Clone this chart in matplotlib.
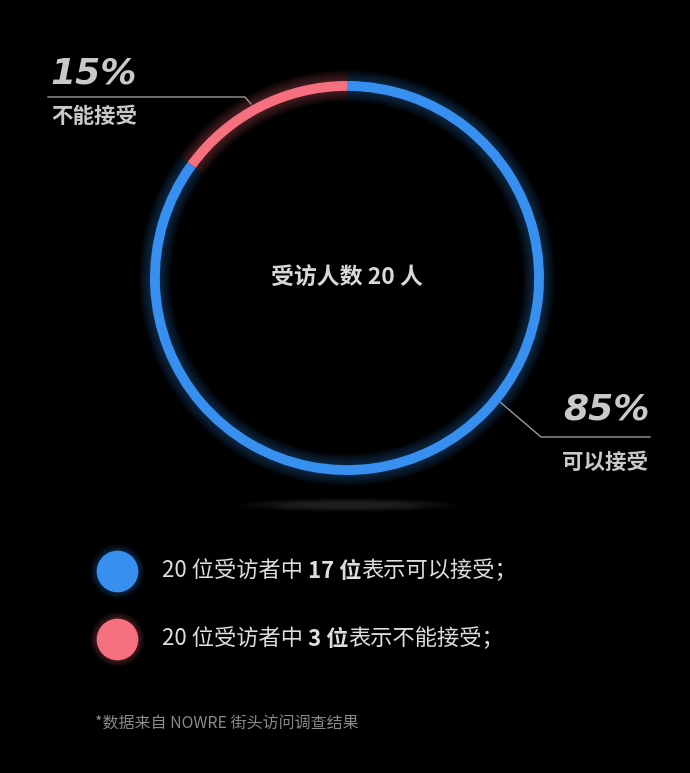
import matplotlib
matplotlib.use("Agg")
import matplotlib.pyplot as plt

# data
labels = ['可以接受', '不能接受']
counts = [17, 3]
shares = ['85%', '15%']
colors = ['#3790f0', '#f7707f']
total = 20
legend_parts = [
    [('20 位受访者中 ', 'normal'), ('17 位', 'bold'), ('表示可以接受；', 'normal')],
    [('20 位受访者中 ', 'normal'), ('3 位', 'bold'), ('表示不能接受；', 'normal')],
]
footnote = '*数据来自 NOWRE 街头访问调查结果'

plt.rcParams['font.family'] = ['Noto Sans CJK SC', 'DejaVu Sans']

W, H = 690, 773
fig = plt.figure(figsize=(W / 100, H / 100), dpi=100, facecolor='black')
ax = fig.add_axes([0, 0, 1, 1])
ax.set_xlim(0, W)
ax.set_ylim(H, 0)
ax.axis('off')
ax.set_facecolor('black')

# soft shadow under the ring
for k in range(8):
    ax.add_patch(matplotlib.patches.Ellipse((348, 505), 220 - k * 18, 14 - k * 1.2,
                                            color='#888888', alpha=0.035, lw=0))

# ring in its own axes
cx, cy, R = 347, 278, 197
half = 1.25 * R
rax = fig.add_axes([(cx - half) / W, (H - cy - half) / H, 2 * half / W, 2 * half / H])
rax.axis('off')
rax.patch.set_alpha(0)
ring_vals = counts[::-1]
ring_cols = colors[::-1]
w = 0.05
for k in range(1, 9):
    d = k * 0.007
    rax.pie(ring_vals, colors=ring_cols, startangle=90, counterclock=True, radius=1 + d,
            wedgeprops=dict(width=w + 2 * d, linewidth=0, alpha=0.04), frame=True)
rax.pie(ring_vals, colors=ring_cols, startangle=90, counterclock=True, radius=1,
        wedgeprops=dict(width=w, linewidth=0), frame=True)
rax.set_xlim(-1.25, 1.25)
rax.set_ylim(-1.25, 1.25)
rax.axis('off')

rax.text(0, 0, f'受访人数 {total} 人', ha='center', va='center', color='#d8d8d8',
         fontsize=16.5, fontweight='bold')

# callouts
txt_col = '#c9c9c9'
ax.plot([48, 245, 251], [97, 97, 104], color='#9a9a9a', lw=1)
ax.text(50, 73, shares[1], color=txt_col, fontsize=26, fontweight='bold',
        family='DejaVu Sans', style='oblique', ha='left', va='center')
ax.text(51, 116, labels[1], color=txt_col, fontsize=15.5, fontweight='bold',
        ha='left', va='center')

ax.plot([500, 541, 650], [402, 437, 437], color='#9a9a9a', lw=1)
ax.text(650, 410, shares[0], color=txt_col, fontsize=26, fontweight='bold',
        family='DejaVu Sans', style='oblique', ha='right', va='center')
ax.text(648, 462, labels[0], color=txt_col, fontsize=15.5, fontweight='bold',
        ha='right', va='center')

# legend
fig.canvas.draw()
renderer = fig.canvas.get_renderer()
for i, (parts, col) in enumerate(zip(legend_parts, colors)):
    y = 571 + i * 68
    for k in range(1, 6):
        ax.scatter([117], [y], s=(30 + k * 1.8) ** 2, color=col, alpha=0.05, lw=0)
    ax.scatter([117], [y], s=30 ** 2, color=col, lw=0)
    x = 162
    for s, wt in parts:
        t = ax.text(x, y, s, color='#dedede', fontsize=16, fontweight=wt,
                    ha='left', va='center')
        bb = t.get_window_extent(renderer)
        x += bb.width

ax.text(95, 724, footnote, color='#8a8a8a', fontsize=11.5, ha='left', va='center')

fig.savefig('out.png', dpi=100, facecolor='black')
